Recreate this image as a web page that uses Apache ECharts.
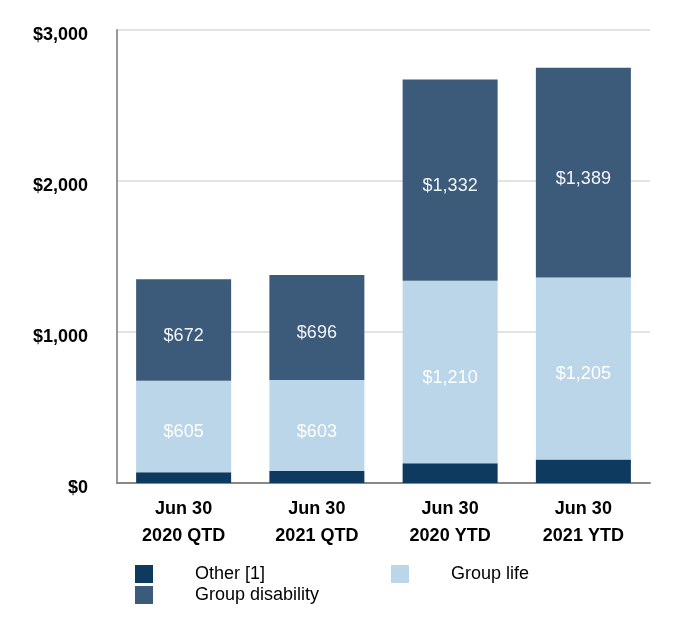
<!DOCTYPE html>
<html>
<head>
<meta charset="utf-8">
<script src="https://cdn.jsdelivr.net/npm/echarts@6/dist/echarts.min.js"></script>
<style>
html,body{margin:0;padding:0;background:#fff;}
#chart{width:680px;height:626px;}
</style>
</head>
<body>
<div id="chart"></div>
<script>
const categories = ['Jun 30\n2020 QTD', 'Jun 30\n2021 QTD', 'Jun 30\n2020 YTD', 'Jun 30\n2021 YTD'];
const other = [72, 79, 130, 156];
const groupLife = [605, 603, 1210, 1205];
const groupDisability = [672, 696, 1332, 1389];
const totals = [1349, 1378, 2672, 2750];
const yTicks = [0, 1000, 2000, 3000];

const fmt = v => '$' + Number(v).toLocaleString('en-US');
const font = 'Liberation Sans, Arial, sans-serif';
const legendText = { fontSize: 18, lineHeight: 19, color: '#000', fontFamily: font, padding: [3, 0, 0, 37] };

const chart = echarts.init(document.getElementById('chart'));
chart.setOption({
  animation: false,
  textStyle: { fontFamily: font },
  grid: { left: 117, right: 30, top: 30, bottom: 143 },
  legend: [
    {
      data: ['Other [1]'],
      left: 135, top: 563, padding: 0,
      itemWidth: 18, itemHeight: 18,
      icon: 'rect', textStyle: legendText
    },
    {
      data: ['Group disability'],
      left: 135, top: 584, padding: 0,
      itemWidth: 18, itemHeight: 18,
      icon: 'rect', textStyle: legendText
    },
    {
      data: ['Group life'],
      left: 391, top: 563, padding: 0,
      itemWidth: 18, itemHeight: 18,
      icon: 'rect', textStyle: legendText
    }
  ],
  xAxis: {
    type: 'category',
    data: categories,
    axisLine: { lineStyle: { color: '#888', width: 2 } },
    axisTick: { show: false },
    axisLabel: { fontSize: 18, fontWeight: 'bold', color: '#000', lineHeight: 27, margin: 13, fontFamily: font }
  },
  yAxis: {
    type: 'value',
    min: yTicks[0], max: yTicks[yTicks.length - 1], interval: 1000,
    axisLine: { show: true, lineStyle: { color: '#999', width: 2 } },
    axisTick: { show: false },
    splitLine: { lineStyle: { color: '#e3e3e3', width: 2 } },
    axisLabel: { fontSize: 18, fontWeight: 'bold', color: '#000', margin: 29, verticalAlign: 'top', lineHeight: 10, formatter: v => fmt(v), fontFamily: font }
  },
  series: [
    {
      name: 'Other [1]', type: 'bar', stack: 't', data: other, barWidth: 95,
      itemStyle: { color: '#0e3a5f' }
    },
    {
      name: 'Group life', type: 'bar', stack: 't', data: groupLife,
      itemStyle: { color: '#bbd5e9' },
      label: { show: true, position: 'inside', color: '#fff', fontSize: 18, formatter: p => fmt(p.value), offset: [0, 6] }
    },
    {
      name: 'Group disability', type: 'bar', stack: 't', data: groupDisability,
      itemStyle: { color: '#3c5a79' },
      label: { show: true, position: 'inside', color: '#f2f5f8', fontSize: 18, formatter: p => fmt(p.value), offset: [0, 6] }
    },
    {
      name: 'Total', type: 'line', data: totals,
      symbol: 'none', lineStyle: { opacity: 0 }, silent: true,
      label: { show: true, position: 'top', distance: 10, color: '#000', fontSize: 18, formatter: p => fmt(p.value) }
    }
  ]
});
</script>
</body>
</html>
